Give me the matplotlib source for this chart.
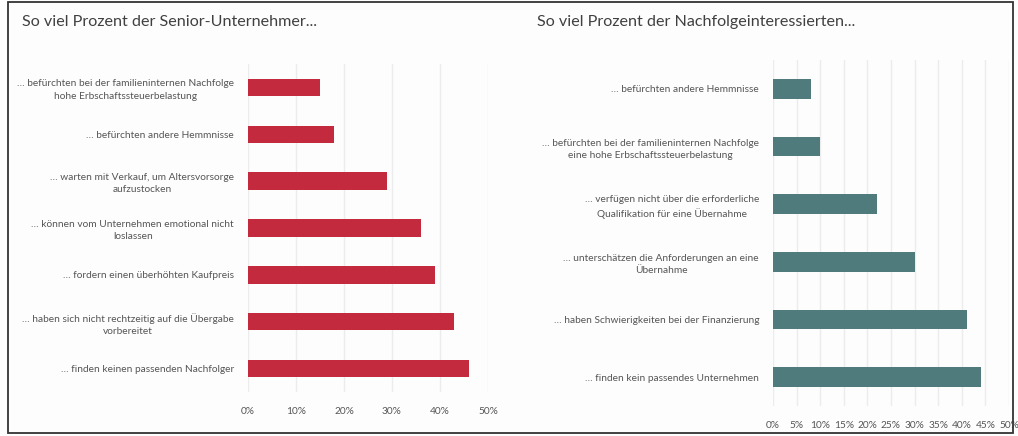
import matplotlib
matplotlib.use("Agg")
import matplotlib.pyplot as plt
from matplotlib.patches import Rectangle
from matplotlib.ticker import FuncFormatter

plt.rcParams['font.family'] = ['Lato', 'DejaVu Sans']

# ---- data ----
left_title = "So viel Prozent der Senior-Unternehmer..."
left_categories = [
    "… befürchten bei der familieninternen Nachfolge\nhohe Erbschaftssteuerbelastung",
    "… befürchten andere Hemmnisse",
    "… warten mit Verkauf, um Altersvorsorge\naufzustocken",
    "… können vom Unternehmen emotional nicht\nloslassen",
    "… fordern einen überhöhten Kaufpreis",
    "… haben sich nicht rechtzeitig auf die Übergabe\nvorbereitet",
    "… finden keinen passenden Nachfolger",
]
left_values = [15, 18, 29, 36, 39, 43, 46]
left_ticks = [0, 10, 20, 30, 40, 50]

right_title = "So viel Prozent der Nachfolgeinteressierten..."
right_categories = [
    "… befürchten andere Hemmnisse",
    "… befürchten bei der familieninternen Nachfolge\neine hohe Erbschaftssteuerbelastung",
    "… verfügen nicht über die erforderliche\nQualifikation für eine Übernahme",
    "… unterschätzen die Anforderungen an eine\nÜbernahme",
    "… haben Schwierigkeiten bei der Finanzierung",
    "… finden kein passendes Unternehmen",
]
right_values = [8, 10, 22, 30, 41, 44]
right_ticks = [0, 5, 10, 15, 20, 25, 30, 35, 40, 45, 50]

RED = "#C42A3D"
TEAL = "#4F7B7D"
TEXT = "#555555"
GRID = "#ECECEC"

W, H = 1018, 436
fig = plt.figure(figsize=(W / 100, H / 100), dpi=100)
fig.patch.set_facecolor("#FDFDFD")


def px_axes(x0, y0, x1, y1):
    return fig.add_axes([x0 / W, 1 - y1 / H, (x1 - x0) / W, (y1 - y0) / H])


def draw(ax, cats, vals, ticks, color, height):
    n = len(cats)
    ys = list(range(n))
    ax.barh(ys, vals, height=height, color=color, zorder=3)
    ax.set_ylim(n - 0.5, -0.5)
    ax.set_xlim(0, 50)
    ax.set_yticks(ys)
    ax.set_yticklabels(cats, fontsize=7.3, color=TEXT, multialignment='center',
                       linespacing=1.45)
    ax.set_xticks(ticks)
    ax.xaxis.set_major_formatter(FuncFormatter(lambda v, p: f"{v:.0f}%"))
    ax.tick_params(axis='x', length=0, pad=11, labelsize=7.3, labelcolor=TEXT)
    ax.tick_params(axis='y', length=0, pad=10)
    for s in ax.spines.values():
        s.set_visible(False)
    ax.grid(axis='x', color=GRID, linewidth=1.0, zorder=0)
    ax.set_axisbelow(True)
    ax.set_facecolor("none")


axL = px_axes(248, 64, 488, 392)
draw(axL, left_categories, left_values, left_ticks, RED, 0.37)

axR = px_axes(773, 60, 1009, 406)
draw(axR, right_categories, right_values, right_ticks, TEAL, 0.34)

fig.text(22 / W, 1 - 22 / H, left_title, fontsize=11.6, color="#404040",
         ha='left', va='center')
fig.text(537 / W, 1 - 22 / H, right_title, fontsize=11.6, color="#404040",
         ha='left', va='center')

fig.add_artist(Rectangle((8 / W, 1 - 433 / H), (1013 - 8) / W, (433 - 2) / H,
                         transform=fig.transFigure, fill=False,
                         edgecolor="#333333", linewidth=1.3, zorder=10))

fig.savefig("out.png", dpi=100, facecolor=fig.get_facecolor())
